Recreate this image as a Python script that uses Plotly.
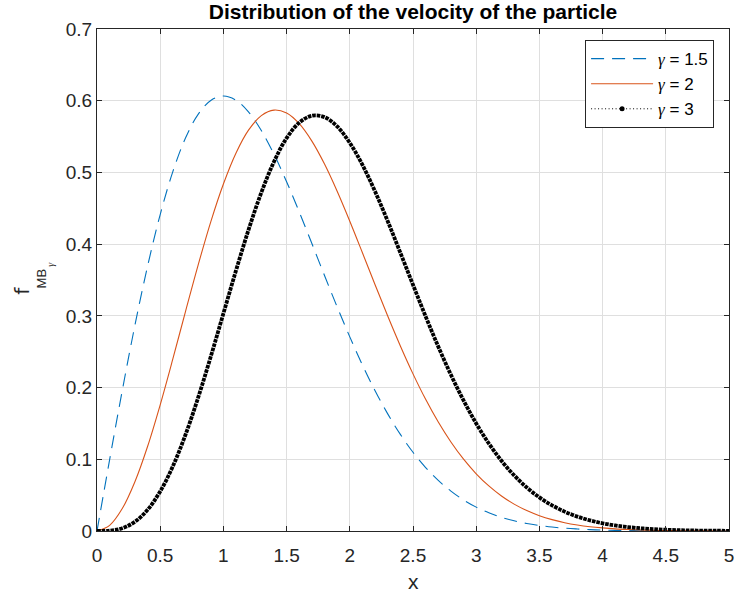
import plotly.graph_objects as go

# x positions (step 0.1 from 0 to 5)
x_vals = [0.0, 0.1, 0.2, 0.3, 0.4, 0.5, 0.6, 0.7, 0.8, 0.9,
          1.0, 1.1, 1.2, 1.3, 1.4, 1.5, 1.6, 1.7, 1.8, 1.9,
          2.0, 2.1, 2.2, 2.3, 2.4, 2.5, 2.6, 2.7, 2.8, 2.9,
          3.0, 3.1, 3.2, 3.3, 3.4, 3.5, 3.6, 3.7, 3.8, 3.9,
          4.0, 4.1, 4.2, 4.3, 4.4, 4.5, 4.6, 4.7, 4.8, 4.9, 5.0]

# gamma = 1.5 (blue dashed)
f_g15 = [0.0, 0.0995, 0.1960, 0.2868, 0.3692, 0.4412, 0.5012, 0.5479, 0.5809, 0.6003,
         0.6065, 0.6007, 0.5841, 0.5584, 0.5254, 0.4870, 0.4449, 0.4008, 0.3562, 0.3125,
         0.2707, 0.2315, 0.1956, 0.1633, 0.1347, 0.1098, 0.0885, 0.0705, 0.0556, 0.0433,
         0.0333, 0.0254, 0.0191, 0.0142, 0.0105, 0.0077, 0.0055, 0.0039, 0.0028, 0.0019,
         0.0013, 0.0009, 0.0006, 0.0004, 0.0003, 0.0002, 0.0001, 0.0001, 0.0, 0.0, 0.0]

# gamma = 2 (orange solid)
f_g2 = [0.0, 0.0079, 0.0313, 0.0687, 0.1178, 0.1760, 0.2399, 0.3060, 0.3708, 0.4311,
        0.4839, 0.5272, 0.5593, 0.5792, 0.5869, 0.5828, 0.5679, 0.5436, 0.5116, 0.4737,
        0.4319, 0.3879, 0.3434, 0.2997, 0.2580, 0.2191, 0.1836, 0.1519, 0.1241, 0.1001,
        0.0798, 0.0628, 0.0488, 0.0375, 0.0285, 0.0214, 0.0159, 0.0116, 0.0084, 0.0060,
        0.0043, 0.0030, 0.0021, 0.0014, 0.0010, 0.0006, 0.0004, 0.0003, 0.0002, 0.0001, 0.0001]

# gamma = 3 (black dotted)
f_g3 = [0.0, 0.0005, 0.0039, 0.0129, 0.0295, 0.0552, 0.0902, 0.1342, 0.1859, 0.2431,
        0.3033, 0.3634, 0.4206, 0.4719, 0.5149, 0.5479, 0.5694, 0.5791, 0.5771, 0.5641,
        0.5413, 0.5105, 0.4734, 0.4320, 0.3880, 0.3433, 0.2992, 0.2571, 0.2178, 0.1820,
        0.1500, 0.1220, 0.0979, 0.0776, 0.0607, 0.0469, 0.0358, 0.0270, 0.0201, 0.0148,
        0.0107, 0.0077, 0.0055, 0.0038, 0.0027, 0.0018, 0.0012, 0.0008, 0.0005, 0.0004, 0.0002]

series_names = ["<i><span style='font-family:Liberation Serif'>γ</span></i> = 1.5",
                "<i><span style='font-family:Liberation Serif'>γ</span></i> = 2",
                "<i><span style='font-family:Liberation Serif'>γ</span></i> = 3"]

x_ticks = [0, 0.5, 1, 1.5, 2, 2.5, 3, 3.5, 4, 4.5, 5]
x_tick_text = ["0", "0.5", "1", "1.5", "2", "2.5", "3", "3.5", "4", "4.5", "5"]
y_ticks = [0, 0.1, 0.2, 0.3, 0.4, 0.5, 0.6, 0.7]
y_tick_text = ["0", "0.1", "0.2", "0.3", "0.4", "0.5", "0.6", "0.7"]

BLUE = "#0072BD"
ORANGE = "#D95319"
AX = "#262626"
FONT = "Liberation Sans, Arial, Helvetica, sans-serif"

fig = go.Figure()

fig.add_trace(go.Scatter(
    x=x_vals, y=f_g15, mode="lines", name=series_names[0],
    line=dict(color=BLUE, width=1.1, dash="13px,8px", shape="spline"),
))
fig.add_trace(go.Scatter(
    x=x_vals, y=f_g2, mode="lines", name=series_names[1],
    line=dict(color=ORANGE, width=1.1, shape="spline"),
))
fig.add_trace(go.Scatter(
    x=x_vals, y=f_g3, mode="lines", name=series_names[2], showlegend=False,
    line=dict(color="black", width=3.8, dash="3.6px,0.9px", shape="spline"),
))
# legend entry for the dotted black series (dotted line with a point marker)
fig.add_trace(go.Scatter(
    x=[None], y=[None], mode="lines+markers", name=series_names[2],
    line=dict(color="black", width=1, dash="1px,2.5px"),
    marker=dict(color="black", size=5),
))

axis_common = dict(
    showline=True, linecolor=AX, linewidth=1, mirror="allticks",
    ticks="inside", ticklen=5, tickwidth=1, tickcolor=AX,
    showgrid=True, gridcolor="#dfdfdf", gridwidth=1,
    zeroline=False, ticklabeloverflow="allow",
    tickfont=dict(family=FONT, size=19, color=AX),
)

fig.update_xaxes(range=[0, 5], tickvals=x_ticks, ticktext=x_tick_text,
                 ticklabelstandoff=7, **axis_common)
fig.update_yaxes(range=[0, 0.7], tickvals=y_ticks, ticktext=y_tick_text, **axis_common)

fig.update_layout(
    width=737, height=593,
    margin=dict(l=97, r=3, t=29, b=62, pad=0),
    paper_bgcolor="white", plot_bgcolor="white",
    font=dict(family=FONT, color=AX),
    title=dict(text="<b>Distribution of the velocity of the particle</b>",
               x=0.5, xref="paper", xanchor="center",
               y=1 - 12 / 593, yref="container", yanchor="middle",
               font=dict(family=FONT, size=21, color="black")),
    showlegend=True,
    legend=dict(x=0.9764, xanchor="right", y=0.978, yanchor="top",
                bgcolor="white", bordercolor=AX, borderwidth=1,
                font=dict(family=FONT, size=17, color="black"),
                itemwidth=62, tracegroupgap=0),
    annotations=[
        dict(text="x", xref="paper", yref="paper", x=0.5, y=-0.101,
             xanchor="center", yanchor="middle", showarrow=False,
             font=dict(family=FONT, size=21, color=AX)),
        dict(text="f", xref="paper", yref="paper", x=-0.1193, y=0.478,
             xanchor="center", yanchor="middle", showarrow=False, textangle=-90,
             font=dict(family="DejaVu Sans, " + FONT, size=20, color=AX)),
        dict(text="MB", xref="paper", yref="paper", x=-0.0863, y=0.504,
             xanchor="center", yanchor="middle", showarrow=False, textangle=-90,
             font=dict(family=FONT, size=13, color=AX)),
        dict(text="<span style='font-family:Liberation Serif'><i>γ</i></span>",
             xref="paper", yref="paper", x=-0.073, y=0.532,
             xanchor="center", yanchor="middle", showarrow=False, textangle=-90,
             font=dict(family=FONT, size=10, color=AX)),
    ],
)

fig.write_html("out.html", config={"displayModeBar": False},
               post_script="document.body.style.margin='0';")
